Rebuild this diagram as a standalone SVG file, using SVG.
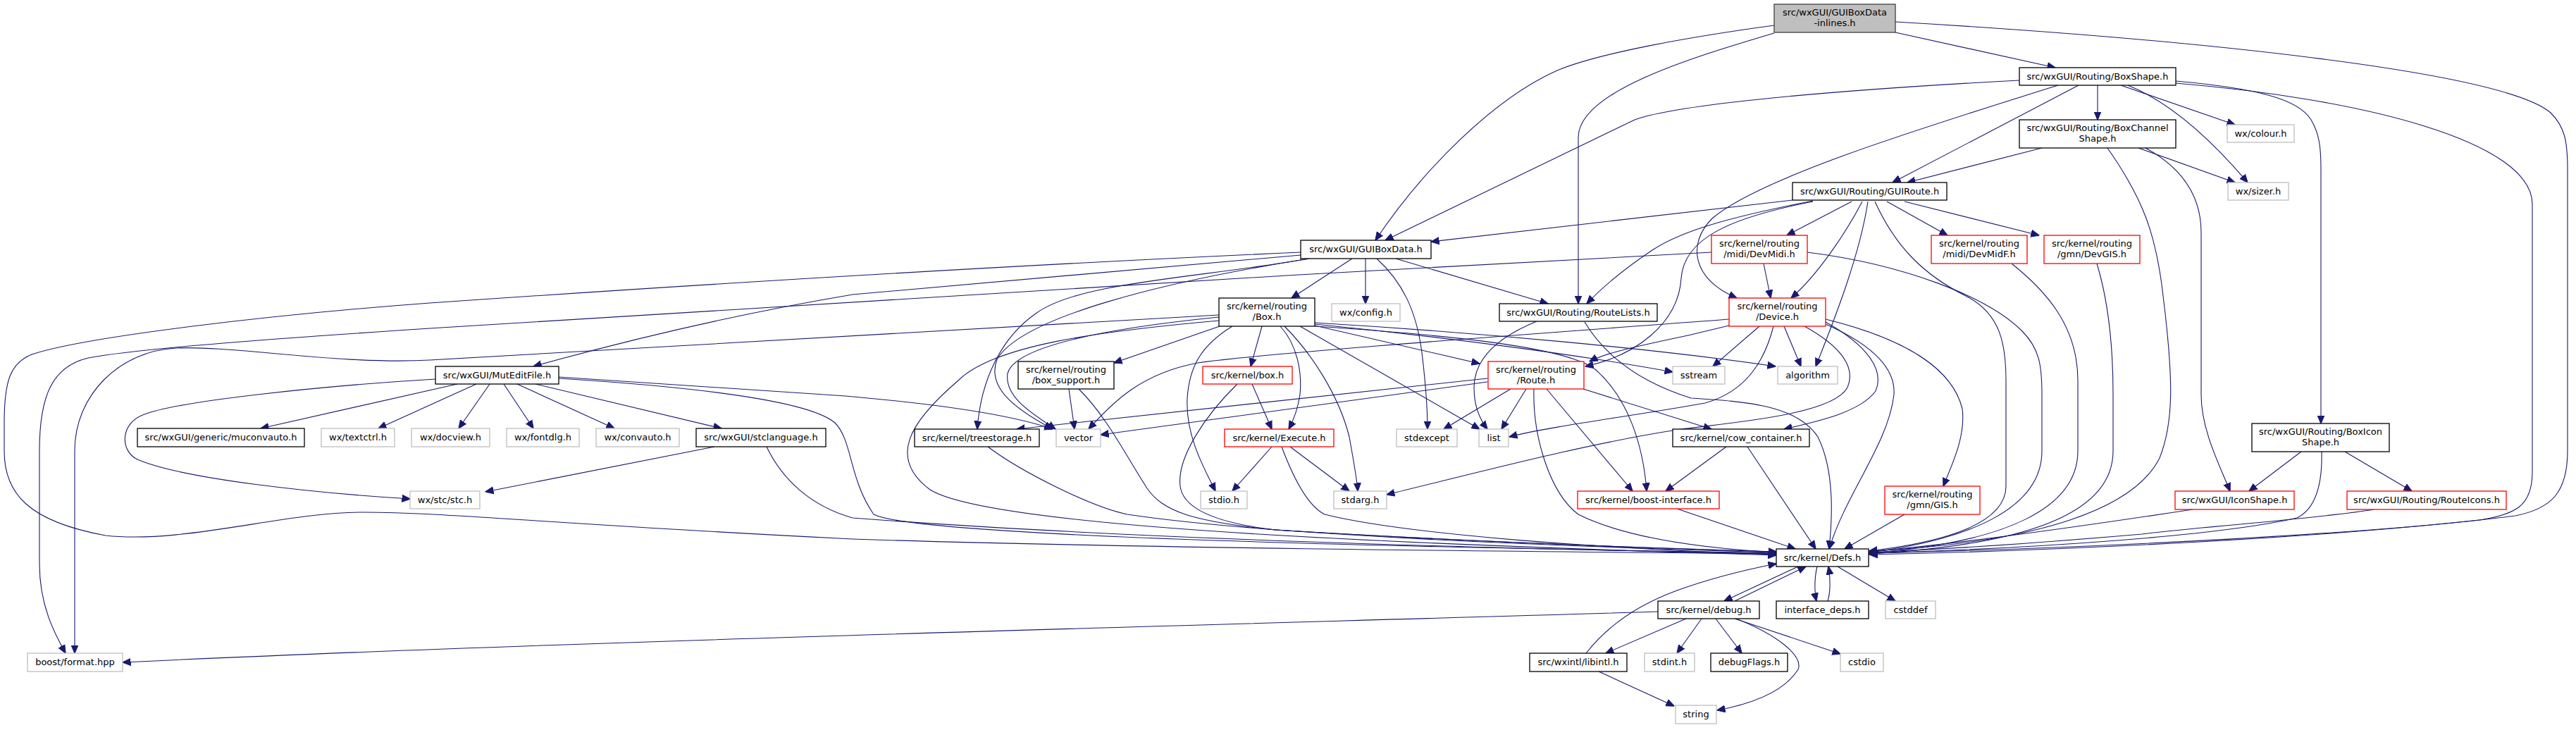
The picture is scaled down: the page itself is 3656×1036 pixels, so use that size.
<svg xmlns="http://www.w3.org/2000/svg" width="3656" height="1036" viewBox="0 0 3656 1036">
<style>
.bg{fill:#ffffff}
.n rect{fill:#ffffff;stroke:#000000;stroke-width:1.3}
.g rect{fill:#ffffff;stroke:#bfbfbf;stroke-width:1.3}
.r rect{fill:#ffffff;stroke:#ff0000;stroke-width:1.3}
.root rect{fill:#bfbfbf;stroke:#404040;stroke-width:1.3}
text{font-family:"DejaVu Sans",Verdana,sans-serif;font-size:13px;fill:#000000;text-anchor:middle}
#edges path{fill:none;stroke:#191970;stroke-width:1.1;marker-end:url(#ah)}
</style>
<defs>
<marker id="ah" markerUnits="userSpaceOnUse" viewBox="0 -6 12 12" refX="11.5" refY="0" markerWidth="12" markerHeight="12" orient="auto">
<path d="M0,-5 L12,0 L0,5 z" fill="#191970" stroke="#191970" stroke-width="1"/>
</marker>
</defs>
<rect class="bg" x="0" y="0" width="3656" height="1036"/>
<g id="edges">
<path d="M2518,36 C2400,52 2270,75 2210,100 C2120,140 2020,240 1952,341"/>
<path d="M2518,47 C2400,82 2240,130 2240,195 L2240,431"/>
<path d="M2690,46 L2917,96"/>
<path d="M2690,31 C3100,55 3550,100 3620,160 C3640,180 3644,200 3644,240 L3644,640 C3644,700 3620,722 3570,732 C3300,765 2900,782 2653,787"/>
<path d="M2866,114 C2600,128 2380,148 2320,170 L1966,341"/>
<path d="M2921,121 C2750,175 2500,250 2430,310 C2395,345 2400,395 2465,423"/>
<path d="M2950,121 L2686,259"/>
<path d="M2977,121 L2977,170"/>
<path d="M3010,121 L3172,177"/>
<path d="M3020,121 C3080,145 3140,200 3190,259"/>
<path d="M3088,115 C3200,125 3262,140 3280,170 C3292,190 3294,210 3294,240 L3294,601"/>
<path d="M3088,118 C3350,140 3594,200 3594,290 L3594,670 C3594,718 3570,730 3520,738 C3300,762 2900,780 2653,785"/>
<path d="M2898,210 L2707,259"/>
<path d="M3035,210 L3172,259"/>
<path d="M3045,210 C3100,240 3124,280 3124,330 L3124,560 C3124,610 3150,660 3165,697"/>
<path d="M2991,210 C3040,280 3060,330 3070,420 C3085,540 3085,600 3065,650 C3030,720 2900,770 2653,782"/>
<path d="M2544,284 L2031,343"/>
<path d="M2573,285 C2470,305 2390,325 2345,355 C2300,385 2272,410 2252,431"/>
<path d="M2573,286 C2450,310 2390,340 2386,395 C2382,460 2320,505 2250,520"/>
<path d="M2628,286 L2536,334"/>
<path d="M2643,286 C2620,330 2580,390 2542,423"/>
<path d="M2651,286 C2640,360 2605,450 2577,520"/>
<path d="M2661,286 C2690,350 2730,390 2790,420 C2840,445 2847,490 2847,540 L2847,690 C2847,740 2770,768 2653,782"/>
<path d="M2678,286 L2764,334"/>
<path d="M2703,286 L2894,334"/>
<path d="M2429,358 C1800,390 1000,440 610,466 C400,480 200,494 125,508 C75,520 56,560 56,640 L56,800 C56,860 78,900 93,927"/>
<path d="M2503,374 L2513,423"/>
<path d="M2565,358 C2700,375 2820,420 2870,470 C2895,495 2898,520 2898,560 L2898,640 C2898,720 2800,765 2653,784"/>
<path d="M2855,374 C2900,410 2949,460 2949,540 L2949,640 C2949,720 2850,770 2653,785"/>
<path d="M2976,374 C2990,420 2999,480 2999,560 L2999,640 C2999,720 2900,772 2653,786"/>
<path d="M2497,463 L2431,520"/>
<path d="M2517,463 C2505,510 2480,555 2420,572 C2320,590 2200,605 2142,620"/>
<path d="M2532,463 L2556,520"/>
<path d="M2561,463 C2610,490 2635,520 2622,550 C2600,590 2450,600 2380,610 C2250,630 2100,670 1968,702"/>
<path d="M2591,457 C2650,490 2675,525 2662,555 C2640,585 2580,598 2532,609"/>
<path d="M2591,460 C2670,495 2690,530 2688,560 C2680,630 2620,700 2596,779"/>
<path d="M2591,453 C2700,480 2770,520 2785,580 C2790,620 2770,660 2758,690"/>
<path d="M2454,453 C2300,465 1800,500 1700,515 C1620,530 1580,570 1545,609"/>
<path d="M2454,462 L2400,475 C2330,490 2280,500 2256,513"/>
<path d="M1730,447 C1300,470 900,495 610,511 C480,518 330,490 250,494 C170,498 106,560 106,640 L106,927"/>
<path d="M1731,463 L1581,515"/>
<path d="M1791,463 L1775,520"/>
<path d="M1749,463 C1705,490 1688,520 1685,565 C1682,620 1712,670 1725,697"/>
<path d="M1858,367 C1700,395 1530,400 1470,445 C1420,480 1392,540 1387,609"/>
<path d="M1858,367 C1650,400 1450,450 1415,510 C1400,550 1440,580 1494,609"/>
<path d="M1730,450 C1580,465 1440,490 1430,530 C1425,565 1470,590 1498,609"/>
<path d="M1730,455 C1560,470 1410,490 1360,540 C1290,600 1260,650 1320,695 C1400,745 1900,770 2521,788"/>
<path d="M1817,463 C1842,490 1848,530 1845,560 C1842,580 1836,596 1829,609"/>
<path d="M1823,463 C1860,500 1900,560 1915,620 C1922,660 1926,680 1927,697"/>
<path d="M1845,463 L2100,609"/>
<path d="M1866,462 L2100,516"/>
<path d="M1866,460 C2050,478 2250,505 2374,528"/>
<path d="M1866,458 C2100,472 2350,495 2520,520"/>
<path d="M1866,463 C2050,475 2225,492 2265,525 C2310,565 2332,630 2337,697"/>
<path d="M1919,367 L1833,423"/>
<path d="M1938,367 L1938,431"/>
<path d="M1954,367 C1990,400 2010,440 2018,500 C2024,550 2026,580 2026,609"/>
<path d="M1981,367 L2197,431"/>
<path d="M1846,362 L1210,418 C1050,445 900,480 757,520"/>
<path d="M1846,358 C1400,378 900,410 610,430 C380,447 120,478 45,503 C15,515 6,540 6,600 L6,640 C6,700 40,740 150,760 C260,772 400,728 510,727 C620,726 800,745 1210,765 C1600,778 2200,783 2521,786"/>
<path d="M649,545 L370,608"/>
<path d="M676,545 L537,608"/>
<path d="M695,545 L651,608"/>
<path d="M715,545 L757,608"/>
<path d="M734,545 L872,608"/>
<path d="M760,545 L1024,608"/>
<path d="M618,538 C450,548 250,570 205,588 C170,600 170,640 195,652 C260,680 450,700 582,708"/>
<path d="M793,535 L1200,562 C1350,575 1440,590 1494,609"/>
<path d="M793,537 C1000,550 1150,570 1185,600 C1210,625 1205,680 1240,730 C1300,760 1900,775 2521,785"/>
<path d="M1014,634 L689,698"/>
<path d="M1088,634 C1110,680 1150,718 1210,735 C1600,765 2100,778 2521,786"/>
<path d="M1517,552 L1525,609"/>
<path d="M1531,552 C1570,590 1600,650 1628,693 C1650,725 1690,740 1810,752 C2100,770 2350,778 2521,783"/>
<path d="M1402,634 C1450,670 1550,720 1600,730 C1800,760 2200,775 2521,784"/>
<path d="M1777,545 L1805,609"/>
<path d="M1756,545 C1710,590 1670,650 1675,690 C1680,730 1750,745 1810,752 C2100,770 2350,778 2521,783"/>
<path d="M1805,634 L1749,697"/>
<path d="M1831,634 L1915,697"/>
<path d="M1819,634 C1840,690 1860,720 1880,730 C2000,760 2300,780 2521,787"/>
<path d="M2111,537 L1443,609"/>
<path d="M2111,542 L1562,617"/>
<path d="M2144,552 L2049,609"/>
<path d="M2166,552 L2131,609"/>
<path d="M2195,552 L2317,697"/>
<path d="M2177,552 C2175,620 2200,700 2240,730 C2320,770 2450,780 2521,784"/>
<path d="M2247,552 L2429,609"/>
<path d="M2450,634 L2364,697"/>
<path d="M2480,634 L2577,779"/>
<path d="M2380,722 L2548,779"/>
<path d="M2703,730 L2618,779"/>
<path d="M3112,723 C3000,740 2800,770 2653,783"/>
<path d="M3369,723 C3300,735 3100,750 3040,758 C2900,770 2750,780 2653,784"/>
<path d="M3266,641 L3192,697"/>
<path d="M3328,641 L3423,697"/>
<path d="M3295,641 C3296,680 3290,720 3260,735 C3150,760 2900,778 2653,785"/>
<path d="M2552,804 L2447,853"/>
<path d="M2462,853 L2563,804"/>
<path d="M2579,804 C2575,820 2575,840 2578,853"/>
<path d="M2594,853 C2598,840 2598,820 2595,804"/>
<path d="M2608,804 L2690,853"/>
<path d="M2435,878 L2472,927"/>
<path d="M2462,878 L2612,928"/>
<path d="M2464,878 C2520,900 2560,930 2552,950 C2530,985 2480,1000 2437,1008"/>
<path d="M2415,878 L2380,927"/>
<path d="M2393,878 L2279,927"/>
<path d="M2353,868 C1800,885 800,910 174,940"/>
<path d="M2269,953 L2376,1002"/>
<path d="M2251,927 C2280,890 2320,860 2380,838 C2430,820 2480,808 2521,800"/>
<path d="M2181,456 C2110,485 2092,520 2092,550 C2092,575 2100,595 2111,609"/>
<path d="M2249,457 C2275,500 2320,540 2400,565 C2480,570 2550,575 2580,620 C2605,670 2600,740 2596,779"/>
</g>
<g id="n0" class="root"><rect x="2518" y="6" width="172" height="40"/><text x="2604" y="22">src/wxGUI/GUIBoxData</text><text x="2604" y="37">-inlines.h</text></g>
<g id="n1" class="n"><rect x="1846" y="341" width="185" height="26"/><text x="1938.5" y="358">src/wxGUI/GUIBoxData.h</text></g>
<g id="n2" class="n"><rect x="2128" y="431" width="224" height="25"/><text x="2240" y="448">src/wxGUI/Routing/RouteLists.h</text></g>
<g id="n3" class="n"><rect x="2866" y="96" width="222" height="25"/><text x="2977" y="113">src/wxGUI/Routing/BoxShape.h</text></g>
<g id="n4" class="n"><rect x="2521" y="779" width="131" height="25"/><text x="2586.5" y="796">src/kernel/Defs.h</text></g>
<g id="n5" class="n"><rect x="2866" y="170" width="222" height="40"/><text x="2977" y="186">src/wxGUI/Routing/BoxChannel</text><text x="2977" y="201">Shape.h</text></g>
<g id="n6" class="n"><rect x="2544" y="259" width="219" height="25"/><text x="2653.5" y="276">src/wxGUI/Routing/GUIRoute.h</text></g>
<g id="n7" class="g"><rect x="3161" y="177" width="95" height="25"/><text x="3208.5" y="194">wx/colour.h</text></g>
<g id="n8" class="g"><rect x="3162" y="259" width="86" height="25"/><text x="3205" y="276">wx/sizer.h</text></g>
<g id="n9" class="n"><rect x="3196" y="601" width="195" height="40"/><text x="3293.5" y="617">src/wxGUI/Routing/BoxIcon</text><text x="3293.5" y="632">Shape.h</text></g>
<g id="n10" class="r"><rect x="3087" y="697" width="169" height="26"/><text x="3171.5" y="714">src/wxGUI/IconShape.h</text></g>
<g id="n11" class="r"><rect x="3331" y="697" width="226" height="26"/><text x="3444" y="714">src/wxGUI/Routing/RouteIcons.h</text></g>
<g id="n12" class="r"><rect x="2429" y="334" width="136" height="40"/><text x="2497" y="350">src/kernel/routing</text><text x="2497" y="365">/midi/DevMidi.h</text></g>
<g id="n13" class="r"><rect x="2741" y="334" width="136" height="40"/><text x="2809" y="350">src/kernel/routing</text><text x="2809" y="365">/midi/DevMidF.h</text></g>
<g id="n14" class="r"><rect x="2901" y="334" width="136" height="40"/><text x="2969" y="350">src/kernel/routing</text><text x="2969" y="365">/gmn/DevGIS.h</text></g>
<g id="n15" class="r"><rect x="2454" y="423" width="137" height="40"/><text x="2522.5" y="439">src/kernel/routing</text><text x="2522.5" y="454">/Device.h</text></g>
<g id="n16" class="n"><rect x="1730" y="423" width="136" height="40"/><text x="1798" y="439">src/kernel/routing</text><text x="1798" y="454">/Box.h</text></g>
<g id="n17" class="g"><rect x="1890" y="431" width="97" height="25"/><text x="1938.5" y="448">wx/config.h</text></g>
<g id="n18" class="n"><rect x="618" y="520" width="175" height="25"/><text x="705.5" y="537">src/wxGUI/MutEditFile.h</text></g>
<g id="n19" class="n"><rect x="1445" y="513" width="136" height="39"/><text x="1513" y="529">src/kernel/routing</text><text x="1513" y="544">/box_support.h</text></g>
<g id="n20" class="r"><rect x="1707" y="520" width="127" height="25"/><text x="1770.5" y="537">src/kernel/box.h</text></g>
<g id="n21" class="r"><rect x="2112" y="513" width="136" height="39"/><text x="2180" y="529">src/kernel/routing</text><text x="2180" y="544">/Route.h</text></g>
<g id="n22" class="g"><rect x="2374" y="520" width="74" height="25"/><text x="2411" y="537">sstream</text></g>
<g id="n23" class="g"><rect x="2523" y="520" width="85" height="25"/><text x="2565.5" y="537">algorithm</text></g>
<g id="n24" class="n"><rect x="1298" y="609" width="177" height="25"/><text x="1386.5" y="626">src/kernel/treestorage.h</text></g>
<g id="n25" class="g"><rect x="1499" y="609" width="63" height="25"/><text x="1530.5" y="626">vector</text></g>
<g id="n26" class="r"><rect x="1738" y="609" width="155" height="25"/><text x="1815.5" y="626">src/kernel/Execute.h</text></g>
<g id="n27" class="g"><rect x="1982" y="609" width="86" height="25"/><text x="2025" y="626">stdexcept</text></g>
<g id="n28" class="g"><rect x="2099" y="609" width="42" height="25"/><text x="2120" y="626">list</text></g>
<g id="n29" class="n"><rect x="2374" y="609" width="194" height="25"/><text x="2471" y="626">src/kernel/cow_container.h</text></g>
<g id="n30" class="n"><rect x="195" y="608" width="237" height="26"/><text x="313.5" y="625">src/wxGUI/generic/muconvauto.h</text></g>
<g id="n31" class="g"><rect x="456" y="608" width="104" height="26"/><text x="508" y="625">wx/textctrl.h</text></g>
<g id="n32" class="g"><rect x="584" y="608" width="111" height="26"/><text x="639.5" y="625">wx/docview.h</text></g>
<g id="n33" class="g"><rect x="719" y="608" width="103" height="26"/><text x="770.5" y="625">wx/fontdlg.h</text></g>
<g id="n34" class="g"><rect x="846" y="608" width="118" height="26"/><text x="905" y="625">wx/convauto.h</text></g>
<g id="n35" class="n"><rect x="988" y="608" width="184" height="26"/><text x="1080" y="625">src/wxGUI/stclanguage.h</text></g>
<g id="n36" class="g"><rect x="582" y="697" width="99" height="25"/><text x="631.5" y="714">wx/stc/stc.h</text></g>
<g id="n37" class="g"><rect x="1704" y="697" width="66" height="25"/><text x="1737" y="714">stdio.h</text></g>
<g id="n38" class="g"><rect x="1893" y="697" width="75" height="25"/><text x="1930.5" y="714">stdarg.h</text></g>
<g id="n39" class="r"><rect x="2239" y="697" width="201" height="25"/><text x="2339.5" y="714">src/kernel/boost-interface.h</text></g>
<g id="n40" class="r"><rect x="2675" y="690" width="135" height="40"/><text x="2742.5" y="706">src/kernel/routing</text><text x="2742.5" y="721">/gmn/GIS.h</text></g>
<g id="n41" class="n"><rect x="2353" y="853" width="144" height="25"/><text x="2425" y="870">src/kernel/debug.h</text></g>
<g id="n42" class="n"><rect x="2521" y="853" width="131" height="25"/><text x="2586.5" y="870">interface_deps.h</text></g>
<g id="n43" class="g"><rect x="2676" y="853" width="71" height="25"/><text x="2711.5" y="870">cstddef</text></g>
<g id="n44" class="g"><rect x="39" y="927" width="135" height="26"/><text x="106.5" y="944">boost/format.hpp</text></g>
<g id="n45" class="n"><rect x="2171" y="927" width="138" height="26"/><text x="2240" y="944">src/wxintl/libintl.h</text></g>
<g id="n46" class="g"><rect x="2334" y="927" width="71" height="26"/><text x="2369.5" y="944">stdint.h</text></g>
<g id="n47" class="n"><rect x="2428" y="927" width="109" height="26"/><text x="2482.5" y="944">debugFlags.h</text></g>
<g id="n48" class="g"><rect x="2612" y="927" width="61" height="26"/><text x="2642.5" y="944">cstdio</text></g>
<g id="n49" class="g"><rect x="2378" y="1001" width="58" height="26"/><text x="2407" y="1018">string</text></g>
</svg>
